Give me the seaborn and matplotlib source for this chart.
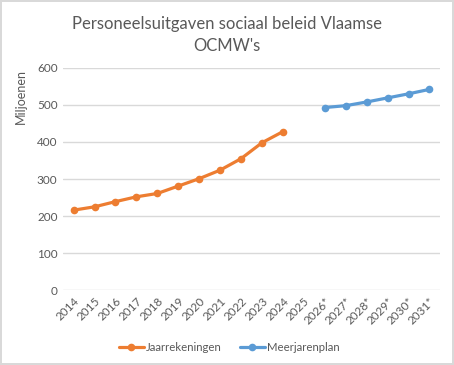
import pandas as pd
import numpy as np
import matplotlib.pyplot as plt
import seaborn as sns

# --- data ---
jaren = ['2014', '2015', '2016', '2017', '2018', '2019', '2020', '2021', '2022',
         '2023', '2024', '2025', '2026*', '2027*', '2028*', '2029*', '2030*', '2031*']
jaarrekeningen_jaren = ['2014', '2015', '2016', '2017', '2018', '2019', '2020',
                        '2021', '2022', '2023', '2024']
jaarrekeningen = [216, 225, 239, 252, 261, 281, 301, 324, 355, 398, 428]
meerjarenplan_jaren = ['2026*', '2027*', '2028*', '2029*', '2030*', '2031*']
meerjarenplan = [493, 498, 508, 519, 530, 542]

df = pd.concat([
    pd.DataFrame({'jaar': jaarrekeningen_jaren, 'waarde': jaarrekeningen, 'reeks': 'Jaarrekeningen'}),
    pd.DataFrame({'jaar': meerjarenplan_jaren, 'waarde': meerjarenplan, 'reeks': 'Meerjarenplan'}),
])
df['pos'] = df['jaar'].map({j: i for i, j in enumerate(jaren)})

sns.set_theme(style='white')
plt.rcParams['font.family'] = ['Lato', 'DejaVu Sans']
tekst = '#595959'
kleuren = {'Jaarrekeningen': '#ED7D31', 'Meerjarenplan': '#5B9BD5'}

fig = plt.figure(figsize=(4.54, 3.65), dpi=100)
fig.patch.set_edgecolor('#D9D9D9')
fig.patch.set_linewidth(1.5)
ax = fig.add_axes([0.139, 0.205, 0.830, 0.609])

sns.lineplot(data=df, x='pos', y='waarde', hue='reeks', palette=kleuren,
             marker='o', markersize=5.5, markeredgewidth=0, linewidth=2.3,
             ax=ax, legend=False)

ax.set_xlim(-0.5, len(jaren) - 0.5)
ax.set_ylim(0, 600)
ax.set_yticks(np.arange(0, 601, 100))
ax.set_xticks(range(len(jaren)))
ax.set_xticklabels(jaren, rotation=45, ha='right', rotation_mode='anchor')
ax.tick_params(axis='both', labelsize=8.5, colors=tekst, length=0, pad=4)
ax.grid(axis='y', color='#D9D9D9', linewidth=1)
ax.set_axisbelow(True)
for s in ax.spines.values():
    s.set_visible(False)
ax.set_xlabel('')
ax.set_ylabel('')

fig.text(0.045, 0.735, 'Miljoenen', rotation=90, ha='center', va='center',
         fontsize=9, color=tekst)
fig.text(0.5, 0.903, "Personeelsuitgaven sociaal beleid Vlaamse\nOCMW's",
         ha='center', va='center', fontsize=12, color=tekst, linespacing=1.45)

handles = [plt.Line2D([], [], color=kleuren[k], marker='o', markersize=5.5,
                      markeredgewidth=0, linewidth=2.3) for k in kleuren]
fig.legend(handles, list(kleuren), loc='center', bbox_to_anchor=(0.505, 0.048),
           ncol=2, frameon=False, fontsize=8.2, labelcolor=tekst,
           handlelength=2.2, columnspacing=1.6, handletextpad=0.2)

fig.savefig('out.png', dpi=100)
